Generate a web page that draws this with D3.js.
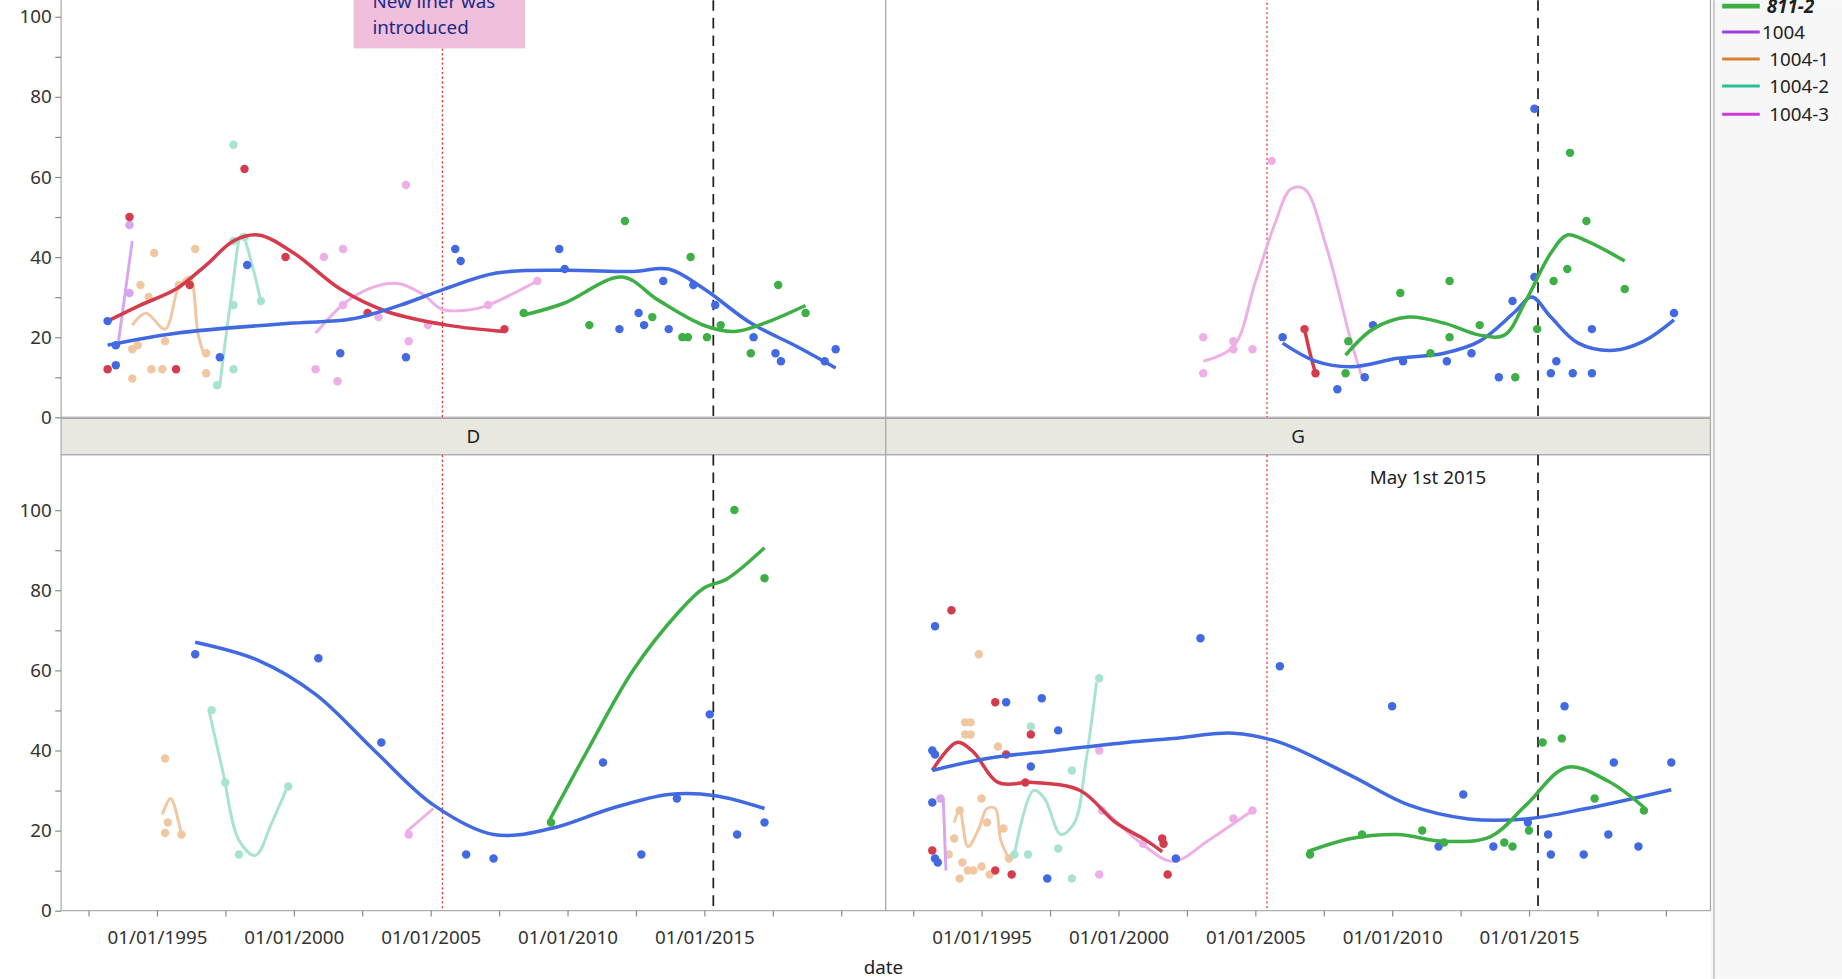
<!DOCTYPE html>
<html><head><meta charset="utf-8">
<script src="https://cdn.jsdelivr.net/npm/d3@7"></script>
<style>body{margin:0;background:#fff}svg{display:block;font-family:"Segoe UI","Noto Sans",Arial,sans-serif}</style>
</head><body>
<svg id="chart" width="1842" height="979" viewBox="0 0 1568 833"></svg>
<script>
// ---- data: [year, value] ----
var colors = {blue:'#4169e1', red:'#d43b4c', green:'#3daf45', tan:'#f1c7a2', mint:'#a7e3cf', pink:'#eeafe7', lilac:'#d7a6ef'};

var panels = [
 {col:0,row:0, series:[
  {c:'tan', pts:[[1994.1,9.7],[1994.1,17],[1994.3,18],[1994.4,33],[1994.9,41],[1994.7,30],[1995.3,19],[1994.8,12],[1995.2,12],[1995.8,33],[1996.4,42],[1996.8,16],[1996.8,11]],
   curve:[[1994.1,23],[1994.6,26],[1995.3,22],[1995.8,32.5],[1996.2,35],[1996.5,21],[1996.7,16]]},
  {c:'lilac', pts:[[1994.0,48],[1994.0,31]], curve:[[1993.6,19],[1994.1,44]]},
  {c:'mint', pts:[[1997.8,68],[1997.2,8],[1997.8,12],[1997.8,28],[1998.8,29],[1997.8,44],[1998.2,45]],
   curve:[[1997.3,8],[1997.7,29],[1998.1,45.5],[1998.5,37.5],[1998.8,28.7]]},
  {c:'pink', pts:[[2000.8,12],[2001.6,9],[2001.8,28],[2001.1,40],[2001.8,42],[2003.1,25],[2004.1,58],[2004.2,19],[2004.9,23],[2007.1,28],[2008.9,34]],
   curve:[[2000.8,21],[2001.9,28.7],[2002.9,32.5],[2003.8,33.4],[2004.7,30.8],[2005.4,27],[2006.3,26.7],[2007.1,28],[2008.9,34]]},
  {c:'red', pts:[[1993.2,12],[1994.0,50],[1995.7,12],[1996.2,33],[1998.2,62],[1999.7,40],[2002.7,26],[2007.7,22]],
   curve:[[1993.2,24],[1994.4,28],[1995.7,32],[1996.8,38],[1997.8,44],[1998.7,45.5],[2000.0,41],[2001.7,32],[2003.4,26.4],[2005.6,23],[2007.7,21.4]]},
  {c:'blue', pts:[[1993.2,24],[1993.5,13],[1993.5,18],[1997.3,15],[1998.3,38],[2001.7,16],[2004.1,15],[2005.9,42],[2006.1,39],[2009.7,42],[2009.9,37],[2011.9,22],[2012.6,26],[2012.8,23],[2013.5,34],[2013.7,22],[2014.6,33],[2015.4,28],[2016.8,20],[2017.6,16],[2017.8,14],[2019.4,14],[2019.8,17]],
   curve:[[1993.2,18],[1995.7,21],[2000,23.5],[2002.1,24.5],[2003.9,28],[2005.5,32],[2007.4,36],[2009.9,36.7],[2012.4,36.4],[2013.7,37],[2015,32],[2016.7,23.5],[2018.4,17.6],[2019.8,12.3]]},
  {c:'green', pts:[[2008.4,26],[2010.8,23],[2012.1,49],[2013.1,25],[2014.2,20],[2014.4,20],[2014.5,40],[2015.1,20],[2015.6,23],[2016.7,16],[2017.7,33],[2018.7,26]],
   curve:[[2008.4,25.5],[2009.85,28.4],[2012,35],[2013.3,29.3],[2015,22.9],[2016.1,21.4],[2017.2,23.5],[2018.7,27.9]]}
 ]},
 {col:1,row:0, series:[
  {c:'pink', pts:[[2003.1,20],[2003.1,11],[2004.2,19],[2004.2,17],[2004.9,17],[2005.6,64]],
   curve:[[2003.1,14],[2004.2,17.6],[2005.0,33.7],[2005.7,48],[2006.3,57],[2006.8,57],[2007.6,42.5],[2008.5,19],[2008.9,10]]},
  {c:'red', pts:[[2006.8,22],[2007.2,11]], curve:[[2006.8,22],[2007.0,16],[2007.2,11]]},
  {c:'blue', pts:[[2006.0,20],[2008.0,7],[2009.0,10],[2009.3,23],[2010.4,14],[2012.0,14],[2012.9,16],[2013.9,10],[2014.4,29],[2015.2,35],[2015.2,77],[2015.8,11],[2016.0,14],[2016.6,11],[2017.3,11],[2017.3,22],[2020.3,26]],
   curve:[[2006.0,18.5],[2007.2,14],[2008.5,12.6],[2010.2,14.7],[2011.9,16],[2013.2,19],[2014.5,26.4],[2015.1,30],[2015.8,25],[2016.8,18.5],[2018.1,16.7],[2019.2,19],[2020.3,24.3]]},
  {c:'green', pts:[[2008.3,11],[2008.4,19],[2010.3,31],[2011.4,16],[2012.1,20],[2012.1,34],[2013.2,23],[2014.5,10],[2015.3,22],[2015.9,34],[2016.4,37],[2016.5,66],[2017.1,49],[2018.5,32]],
   curve:[[2008.3,15.5],[2009.3,22],[2010.6,25],[2011.9,23.5],[2013.2,20.5],[2014.1,20.5],[2014.9,29.3],[2015.8,41],[2016.4,45.5],[2017.1,44],[2018.5,39]]}
 ]},
 {col:0,row:1, series:[
  {c:'tan', pts:[[1995.3,38],[1995.3,19.4],[1995.4,22],[1995.9,19]], curve:[[1995.2,24],[1995.5,28],[1995.8,22],[1995.9,18.5]]},
  {c:'mint', pts:[[1997,50],[1997.5,32],[1998.0,14],[1999.8,31]], curve:[[1996.9,50],[1997.4,35],[1998,17.6],[1998.6,13.8],[1999.2,22],[1999.8,31.4]]},
  {c:'pink', pts:[[2004.2,19]], curve:[[2004.1,19.6],[2005.1,25.5]]},
  {c:'blue', pts:[[1996.4,64],[2000.9,63],[2003.2,42],[2006.3,14],[2007.3,13],[2011.3,37],[2012.7,14],[2014.0,28],[2015.2,49],[2016.2,19],[2017.2,22]],
   curve:[[1996.4,67],[1998.7,62.5],[2000.8,54],[2003.0,39.6],[2005.1,26.4],[2007.3,19],[2009.4,20.5],[2011.6,25.5],[2013.7,29],[2015.4,28.7],[2017.2,25.5]]},
  {c:'green', pts:[[2009.4,22],[2016.1,100],[2017.2,83]], curve:[[2009.3,22],[2010.7,39.6],[2012.4,60],[2014.1,74.8],[2015.0,80.6],[2015.8,82.7],[2017.2,90.6]]}
 ]},
 {col:1,row:1, series:[
  {c:'tan', pts:[[1993.8,14],[1994.0,18],[1994.2,25],[1994.3,12],[1994.9,64],[1994.4,47],[1994.6,47],[1994.4,44],[1994.6,44],[1995.0,28],[1995.2,22],[1994.5,10],[1994.7,10],[1995.0,11],[1995.3,9],[1994.2,8],[1995.6,41],[1995.8,20.5],[1996.0,13]],
   curve:[[1994.0,22],[1994.2,25],[1994.5,16],[1994.9,20.5],[1995.2,25.5],[1995.5,25.5],[1995.7,17.6],[1996.0,13]]},
  {c:'lilac', pts:[[1993.5,28]], curve:[[1993.6,28],[1993.7,10]]},
  {c:'mint', pts:[[1996.2,14],[1996.7,14],[1996.8,46],[1997.8,15.5],[1998.3,35],[1998.3,8],[1999.3,58]],
   curve:[[1996.2,14],[1996.9,30],[1997.3,28],[1997.9,19],[1998.4,22],[1998.8,36.6],[1999.2,57]]},
  {c:'pink', pts:[[1999.3,40],[1999.4,25],[1999.3,9],[2000.9,16.7],[2004.2,23],[2004.9,25]],
   curve:[[1999.5,25],[2000.8,17],[2002.0,12.3],[2003.3,17.6],[2004.9,25]]},
  {c:'red', pts:[[1993.2,15],[1993.9,75],[1995.5,52],[1995.9,39],[1995.5,10],[1996.1,9],[1996.8,44],[1996.6,32],[2001.6,18],[2001.65,16.7],[2001.8,9]],
   curve:[[1993.2,35],[1994.1,42],[1994.7,39.6],[1995.6,32],[1996.9,32],[1998.6,30],[1999.9,22],[2001.0,17.6],[2001.6,14.7]]},
  {c:'blue', pts:[[1993.3,71],[1993.2,40],[1993.3,39],[1993.2,27],[1993.3,13],[1993.4,12],[1995.9,52],[1997.2,53],[1996.8,36],[1997.8,45],[1997.4,8],[2002.1,13],[2003.0,68],[2005.9,61],[2010.0,51],[2011.7,16],[2012.6,29],[2013.7,16],[2014.96,22],[2015.7,19],[2015.8,14],[2016.3,51],[2017.0,14],[2018.1,37],[2017.9,19],[2019.0,16],[2020.2,37]],
   curve:[[1993.2,35],[1995.2,38],[1997.7,40],[2000.3,42],[2002,43],[2004.2,44.3],[2005.9,42],[2008.5,33.7],[2010.6,26.4],[2012.8,22.9],[2014.9,22.9],[2017.1,25.5],[2020.2,30.2]]},
  {c:'green', pts:[[2007.0,14],[2008.9,19],[2011.1,20],[2011.9,17],[2014.1,17],[2014.4,16],[2015.0,20],[2015.5,42],[2016.2,43],[2017.4,28],[2019.2,25]],
   curve:[[2006.9,14.7],[2008.5,18],[2010.2,19],[2011.9,17.3],[2013.6,18.5],[2014.9,26.4],[2016.4,35.8],[2017.9,32.3],[2019.2,25.8]]}
 ]}
];
var strips = ['D','G'];
var yTicks = [0,20,40,60,80,100];
var xTicks = [1995,2000,2005,2010,2015];
var linerDate = 2005.43, mayDate = 2015.33;
var legendItems = [{name:'811-2', color:'#3daf45', bold:true, dx:38},{name:'1004', color:'#a43ee0', dx:34},{name:'1004-1', color:'#d9812f', dx:40},{name:'1004-2', color:'#2bbd95', dx:40},{name:'1004-3', color:'#cf3ad6', dx:40}];

// ---- layout ----
var svg = d3.select('#chart');
var cols = [[52,754],[754,1456]];
var rows = [{top:-30, y0:355, y100:14}, {top:387, y0:775, y100:434}];
var fmt = function(y){ return '01/01/' + y; };

svg.append('rect').attr('x',1456).attr('y',0).attr('width',112).attr('height',833).attr('fill','#f7f7f7');
svg.append('line').attr('x1',1459).attr('x2',1459).attr('y1',0).attr('y2',833).attr('stroke','#b0b0b0');

// strips
strips.forEach(function(s,i){
  svg.append('rect').attr('x',cols[i][0]).attr('y',356).attr('width',cols[i][1]-cols[i][0]).attr('height',31)
    .attr('fill','#e8e8e0').attr('stroke','#a8a8a8');
  svg.append('text').attr('x',(cols[i][0]+cols[i][1])/2).attr('y',377).attr('text-anchor','middle')
    .attr('font-size',16).attr('fill','#222').text(s);
});

panels.forEach(function(p){
  var c = cols[p.col], r = rows[p.row];
  var x = d3.scaleLinear().domain([1991.5, 2021.63]).range(c);
  var y = d3.scaleLinear().domain([0,100]).range([r.y0, r.y100]);
  var g = svg.append('g');
  g.append('rect').attr('x',c[0]).attr('y',r.top).attr('width',c[1]-c[0]).attr('height',r.y0-r.top)
    .attr('fill','#fff').attr('stroke','#a8a8a8');
  g.append('line').attr('x1',x(linerDate)).attr('x2',x(linerDate)).attr('y1',p.col===0&&p.row===0?41:r.top).attr('y2',r.y0)
    .attr('stroke','#e8312f').attr('stroke-width',1).attr('stroke-dasharray','2,2');
  g.append('line').attr('x1',x(mayDate)).attr('x2',x(mayDate)).attr('y1',r.top).attr('y2',r.y0)
    .attr('stroke','#222').attr('stroke-width',1.5).attr('stroke-dasharray','9,6');
  var line = d3.line().x(function(d){return x(d[0]);}).y(function(d){return y(d[1]);}).curve(d3.curveCatmullRom.alpha(0.5));
  p.series.forEach(function(s){
    var main = ['blue','red','green'].indexOf(s.c) >= 0;
    g.append('path').attr('d', line(s.curve)).attr('fill','none').attr('stroke',colors[s.c]).attr('stroke-width', main?3:2.5);
    g.selectAll(null).data(s.pts).enter().append('circle')
      .attr('cx',function(d){return x(d[0]);}).attr('cy',function(d){return y(d[1]);}).attr('r',3.6).attr('fill',colors[s.c]);
  });
  if (p.col===0) {
    var ya = d3.axisLeft(y).tickValues(d3.range(0,101,10)).tickSize(5).tickFormat(function(d){ return yTicks.indexOf(d)>=0 ? d : ''; });
    var ag = g.append('g').attr('transform','translate('+c[0]+',0)').call(ya);
    ag.select('.domain').remove();
    ag.selectAll('text').attr('font-size',16).attr('fill','#333').attr('font-family','"Segoe UI","Noto Sans",sans-serif');
    ag.selectAll('line').attr('stroke','#888');
  }
  if (p.row===1) {
    var xa = d3.axisBottom(x).tickValues(d3.range(1992.5,2021,2.5)).tickSize(5).tickFormat(function(d){ return xTicks.indexOf(d)>=0 ? fmt(d) : ''; });
    var bg = g.append('g').attr('transform','translate(0,'+r.y0+')').call(xa);
    bg.select('.domain').remove();
    bg.selectAll('text').attr('font-size',16).attr('fill','#333').attr('dy','1.25em').attr('font-family','"Segoe UI","Noto Sans",sans-serif');
    bg.selectAll('line').attr('stroke','#888');
  }
});

// annotations
svg.append('rect').attr('x',301).attr('y',-5).attr('width',146).attr('height',46).attr('fill','#efbfdc');
svg.append('text').attr('x',317).attr('y',7).attr('font-size',16).attr('fill','#1a2a8a').text('New liner was');
svg.append('text').attr('x',317).attr('y',29).attr('font-size',16).attr('fill','#1a2a8a').text('introduced');
svg.append('text').attr('x',1166).attr('y',412).attr('font-size',16).attr('fill','#222').text('May 1st 2015');
svg.append('text').attr('x',752).attr('y',829).attr('text-anchor','middle').attr('font-size',16).attr('fill','#222').text('date');

// legend
var lg = svg.append('g').selectAll('g').data(legendItems).enter().append('g')
  .attr('transform',function(d,i){ return 'translate(1466,'+[5,27,50,73,97][i]+')'; });
lg.append('line').attr('x1',0).attr('x2',32).attr('stroke',function(d){return d.color;}).attr('stroke-width',function(d){return d.bold?4:2.5;});
lg.append('text').attr('x',function(d){return d.dx;}).attr('y',6).attr('font-size',16).attr('fill','#222')
  .attr('font-weight',function(d){return d.bold?'bold':null;}).attr('font-style',function(d){return d.bold?'italic':null;})
  .text(function(d){return d.name;});
</script>
</body></html>
